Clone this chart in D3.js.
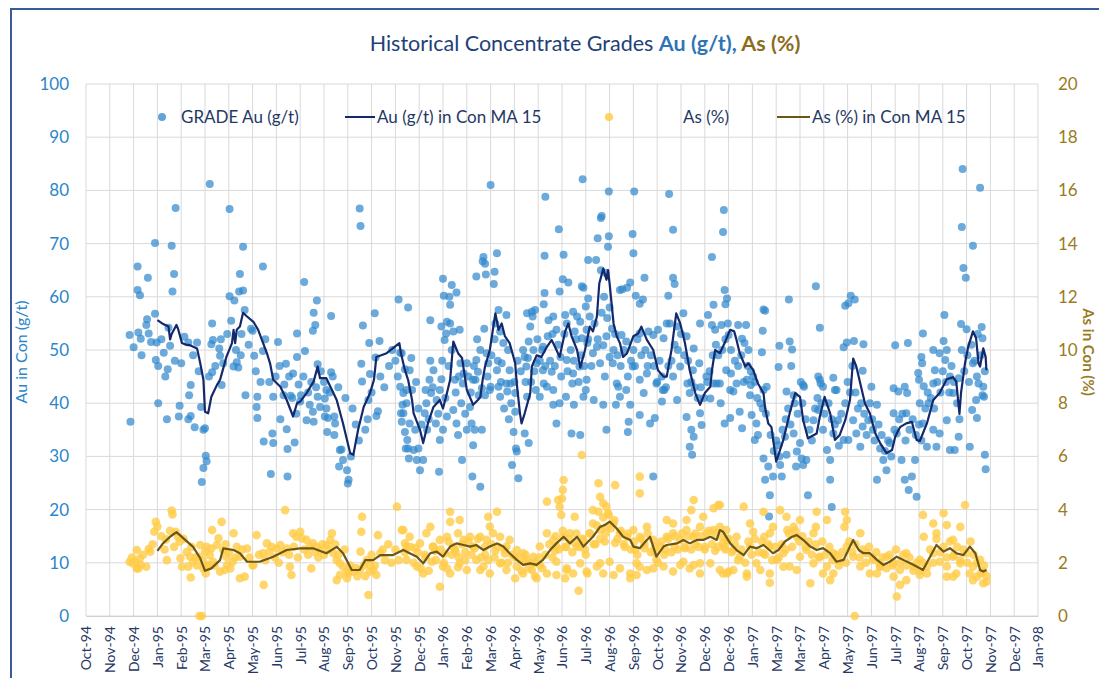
<!DOCTYPE html>
<html>
<head>
<meta charset="utf-8">
<script src="https://cdn.jsdelivr.net/npm/d3@7"></script>
<style>
  body { margin: 0; background: #fff; }
  text { font-family: Lato, "Open Sans", sans-serif; }
</style>
</head>
<body>
<div id="chart"></div>
<script>
// x values are days counted from 13-Oct-94 (first major unit of the date axis)
var tickLabels = ["Oct-94","Nov-94","Dec-94","Jan-95","Feb-95","Mar-95","Apr-95","May-95","Jun-95","Jul-95",
  "Aug-95","Sep-95","Oct-95","Nov-95","Dec-95","Jan-96","Feb-96","Mar-96","Apr-96","May-96","Jun-96","Jul-96",
  "Aug-96","Sep-96","Oct-96","Nov-96","Dec-96","Dec-96","Jan-97","Mar-97","Mar-97","Apr-97","May-97","Jun-97",
  "Jul-97","Aug-97","Sep-97","Oct-97","Nov-97","Dec-97","Jan-98"];

// GRADE Au (g/t)  [day, value]
var auPoints = [
[156,81.2],[113,76.7],[181,76.5],[87,70.1],[108,69.6],[198,69.4],[65,65.7],[223,65.7],[78,63.6],[111,64.3],[194,64.3],[65,61.3],[68,60.3],[109,61.0],[181,60.1],[187,59.3],[193,61.0],[198,61.2],[275,62.8],[291,59.3],[345,76.6],[346,73.3],[394,59.5],[406,58],[87,56.8],[77,55.8],[76,54.7],[55,52.8],[66,53.3],[69,52.1],[79,53.1],[89,51.4],[104,54.2],[88,48.1],[91,47.0],[103,46.4],[100,45],[129,51.4],[140,51.4],[159,55],[160,51.9],[158,51.1],[168,50.3],[169,48.9],[173,47.5],[159,45.8],[200,57.5],[210,53.6],[189,50],[195,49],[190,47.7],[186,46.9],[192,46.7],[212,48.9],[223,49.8],[242,51.5],[252,47.4],[266,53.1],[266,48.7],[276,49.8],[261,45.6],[287,57],[289,54.7],[286,53.6],[309,56.4],[292,47.3],[309,45.8],[349,54.6],[357,51.3],[370,51.7],[347,47.4],[364,56.9],[365,48.6],[358,45.5],[396,49.5],[402,46.4],
[56,36.5],[91,40],[102,37],[118,39.5],[117,37.5],[129,37],[132,37.6],[137,35.5],[145,39.3],[148,35],[150,35.3],[151,30.1],[152,29.1],[148,27.8],[146,25.2],[132,43.4],[130,41.5],[171,43.4],[201,41.5],[216,41.2],[215,39.3],[216,37.2],[224,32.8],[235,34.3],[236,32.5],[233,26.7],[245,37],[253,35.1],[263,32.6],[254,31.4],[254,26.2],[236,41.2],[249,41.5],[258,41.4],[270,40.3],[271,41.5],[282,39.7],[286,38.4],[278,36.8],[287,36.5],[295,39.3],[303,39],[301,37.5],[305,37.2],[313,37.5],[314,36.2],[304,34.6],[313,34],[292,41.2],[301,40.9],[303,42.5],[320,31.2],[324,29.3],[319,28.1],[329,27.4],[331,25.6],[330,24.9],[334,30],[322,31.3],[348,44.1],[368,38.5],[366,37.6],[356,40.6],[396,43.1],[399,39.7],[400,38.1],[398,36.5],[402,34.6],[406,31.5],[407,29.6],
[510,81],[626,82.1],[579,78.8],[659,79.8],[691,79.8],[735,79.3],[804,76.3],[803,72.2],[649,74.8],[650,75.2],[596,72.7],[689,71.8],[740,72.6],[645,71],[659,71.4],[658,69.4],[690,68.2],[518,68.2],[501,67.5],[500,66.7],[503,66.2],[578,67.7],[602,67.9],[633,66.9],[643,66.9],[789,67.5],[492,63.8],[504,64.2],[515,64.7],[514,62.4],[450,63.4],[461,62.2],[451,60.2],[458,60],[459,58.5],[467,60.8],[601,63.3],[608,62.7],[625,62],[627,61.7],[649,65],[655,64.5],[704,63.6],[686,62.7],[682,61.7],[673,61.3],[676,61.4],[740,63.6],[742,62.4],[734,60.2],[578,60.7],[597,61],[577,58.6],[633,59.7],[630,58.2],[693,60.2],[698,58.7],[702,59.5],[805,61.3],[808,59.7],[791,58.5],[806,58.6],
[434,55.6],[448,54.4],[455,55.3],[459,55],[454,53.1],[463,53.5],[471,53.8],[452,51.9],[434,48],[449,48],[438,46.2],[433,44.4],[428,42.5],[408,46.2],[398,49.4],[411,42.5],[492,48.1],[494,45.9],[505,49.4],[507,47.5],[516,55],[520,57.5],[530,56.6],[522,53.5],[526,51.3],[532,50],[524,47.5],[518,46.2],[534,46.2],[530,43.7],[520,43.1],[509,42.5],[499,42.8],[488,44.4],[480,47.5],[476,45.6],[475,43.7],[465,44.4],[503,41.5],[556,56.9],[562,57.2],[566,57.5],[560,54.4],[563,56.3],[558,51.6],[564,50],[576,50.6],[583,55.6],[589,56.3],[593,53.8],[582,52.6],[604,56.6],[606,55],[614,57.2],[619,56.3],[623,55.3],[616,53.5],[625,52.2],[635,56.3],[631,53.8],[632,51.3],[644,50.6],[639,49.4],[656,52.6],[652,50.9],[665,50],[675,52.8],[681,51.6],[690,50],[698,53.1],[709,53.5],[715,52.8],[721,53.8],[728,52.2],[732,55],[736,55],[745,54.4],[753,56.9],[757,52.6],[766,50.3],[774,55],[784,56.6],[789,54.7],[793,53.8],[801,54.7],[810,52.8],
[553,48.7],[555,46.9],[568,47.5],[576,46.2],[587,45.9],[598,48.7],[606,48.1],[614,45.6],[622,46.9],[631,44.4],[630,42.5],[613,43.7],[605,41.2],[589,42.5],[577,43.7],[567,42.5],[648,47.5],[660,48.7],[664,47.5],[654,45],[669,43.7],[681,42.5],[673,41.2],[689,46.9],[698,44.4],[707,45.6],[719,43.7],[727,42.5],[740,45],[749,46.9],[758,43.7],[761,41.9],[765,46.2],[773,47.5],[782,45],[791,43.7],[799,43.7],[807,46.2],[812,42.5],[404,42.5],[446,42.5],[472,47.5],[491,44.4],[535,43.7],[541,41.9],
[400,41.9],[404,40],[397,38.1],[408,36.2],[405,33.1],[403,31.5],[413,31.2],[417,29.3],[421,27.4],[419,31.5],[425,29.3],[415,35],[430,35],[427,38.1],[435,41.9],[442,40.6],[441,36.2],[446,33.1],[450,35],[445,27.1],[455,37.5],[463,38.7],[467,36.2],[469,34],[474,29.3],[480,35],[484,39.3],[486,36.2],[488,32.1],[490,35],[487,26.2],[497,24.3],[499,35],[495,41.5],[510,43.1],[522,41.2],[531,42.2],[541,38.4],[539,34.6],[542,31.5],[543,30.9],[537,28.4],[545,25.9],[553,34.3],[558,32.5],[556,41.2],[572,41.2],[581,43.1],[589,39.7],[593,36.2],[597,40],[612,34.3],[623,34],[615,39.7],[627,41.2],[640,40.6],[652,39.7],[656,35],[668,39.7],[671,43.1],[686,39.7],[684,36.5],[683,34.6],[698,37.8],[711,36.2],[717,37.2],[703,41.9],[715,26.2],[726,40.3],[729,42.5],[745,40.6],[757,37.4],[763,35],[766,33.7],[761,31.8],[764,30.3],[774,38.1],[776,35.9],[787,40.9],[800,40],[795,43.7],
[1105,84],[1127,80.5],[1104,73.1],[1118,69.6],[1106,65.4],[1109,63.6],[920,62],[886,59.5],[964,60.2],[969,59.5],[957,58.3],[961,58.8],[854,57.6],[856,57.4],[925,54.2],[1082,56.6],[1103,54.9],[1110,53.9],[1129,54.3],[1130,52.2],[1055,53.1],[822,54.7],[832,54.7],[853,53.6],[827,52.1],[830,51.3],[835,50],[852,49.6],[874,50.8],[887,51.6],[890,50.1],[873,46.8],[889,47],[955,50.5],[959,51.4],[968,51.7],[980,51.1],[1020,50.9],[1036,51.3],[1068,50],[1076,49.4],[1085,50],[1081,51.7],[1083,48.1],[1053,48.7],[1054,47.5],[979,46.1],[923,45],[925,44.4],[942,44.8],[929,43.1],[944,42.5],[904,43.4],[883,42.2],[892,41.5],[813,45.6],[820,43.7],[833,44.4],[841,45],[837,41.5],[854,42.5],[1018,42.8],[1032,43.1],[1035,41.9],[1049,45.7],[1050,44.4],[1056,43.2],[1068,43.7],[1070,46.2],[1089,45],[1100,44.7],[1118,47.5],[1123,45],[1131,43.1],[1132,41.2],[1125,43.7],
[816,42.2],[824,38.4],[812,37.2],[805,36.2],[827,35.3],[839,37.8],[845,36.2],[847,34],[843,33.1],[854,29.6],[860,28.1],[866,26.2],[856,25.6],[862,22.7],[861,18.7],[875,28.4],[877,26.2],[873,32.1],[881,33.7],[883,30.3],[892,34.3],[900,32.5],[896,30.9],[902,29.6],[908,29.3],[904,28.4],[895,28.1],[910,22.7],[917,36.8],[923,38.7],[929,35],[934,31.2],[938,29.3],[938,25.6],[940,20.5],[942,34.3],[948,36.8],[955,33.1],[961,33.1],[967,36.8],[971,34.3],[976,31.8],[979,35.6],[986,36.8],[992,35],[997,39.7],[1001,31.5],[997,25.6],[1005,29.3],[1009,27.4],[1013,32.5],[1018,38.1],[1022,34.3],[1028,29.3],[1032,25.6],[1037,23.7],[1041,26.2],[1045,29.3],[1047,22.4],[1051,40],[1055,36.2],[1060,31.8],[1068,35],[1072,31.8],[1076,34.3],[1085,36.8],[1089,31.2],[1095,31.2],[1100,33.7],[1114,31.8],[1123,37.2],[1130,41.5],[1133,30.3],[1134,27.6],[1122,40.6],[838,43.4],[858,43.1],[905,43.1],[926,43.7],[946,42.5],[990,43.1],[1024,42.2],[1034,38.1],[1062,40],[1093,41.9],[1117,38.7],
[60,50.5],[70,49],[82,51.5],[95,52],[98,49.5],[106,50.8],[112,48],[120,47.5],[124,52.5],[135,49],[142,46],[155,45],[163,47],[170,52],[178,53],[183,55.5],[196,53],[205,51],[208,54],[214,46],[220,44],[226,52],[231,44],[239,45],[244,47],[250,43.5],[256,45],[260,41],[265,38],[268,43.5],[274,45],[280,42],[284,44],[290,43],[296,46],[300,44],[307,42],[311,45],[318,43],[327,41],[336,39],[340,36],[344,33],[352,35],[355,37],[360,42],[371,45],[376,43],[382,47],[386,50],[390,48],[393,45],
[410,48.5],[416,44],[419,39],[423,36],[429,40],[432,37],[437,43],[444,38],[448,44.5],[453,41],[457,47],[461,50],[466,42],[470,45],[473,40],[478,38],[482,45],[485,42],[489,47],[493,52],[497,50],[502,54],[506,45],[511,49],[515,52],[519,48],[523,44],[527,39],[533,37],[536,40],[540,44],[544,48],[548,46],[551,50],[554,44],[557,48.5],[561,44],[565,46],[569,52],[572,48],[575,50],[579,47],[585,48],[588,53],[591,47],[595,51],[599,45],[603,53],[607,46],[611,50],[615,48],[618,52],[621,44],[624,49],[628,47],[633,52],[637,47],[641,55],[645,52],[650,57],[653,60],[657,56],[660,58],[663,54],[667,53],[670,49],[674,47],[678,50],[683,45],[687,48],[692,47],[695,52],[700,49],[705,50],[708,47],[712,49],[716,47],[720,44],[723,48],[726,45],[731,43],[734,47],[738,48],[742,51],[746,50],[750,53],[754,49],[759,48],[763,44],[767,43],[771,41],[775,43],[779,41],[783,44],[786,46],[790,49],[794,51],[797,49],[802,50],[806,52],[809,55],[813,50],[818,48],
[822,47],[826,49],[829,44],[834,47],[838,46],[843,44],[846,41],[850,40],[853,39],[857,38],[863,34],[867,31],[870,33],[874,30],[878,35],[882,37],[885,39],[888,36],[893,40],[897,38],[901,44],[903,40],[907,37],[912,35],[915,33],[919,39],[922,41],[927,40],[931,38],[936,40],[940,37],[944,36],[949,32],[952,38],[957,40],[960,44],[963,42],[966,47],[970,42],[973,39],[977,40],[981,38],[984,34],[988,40],[991,37],[994,33],[999,36],[1003,34],[1007,31],[1011,33],[1015,30],[1019,35],[1025,37],[1029,38],[1033,33],[1038,35],[1042,37],[1046,34],[1050,36],[1053,33],[1058,39],[1061,42],[1065,41],[1069,39],[1073,44],[1077,42],[1080,46],[1084,44],[1088,42],[1091,47],[1094,44],[1098,40],[1101,37],[1104,50],[1107,46],[1111,49],[1113,44],[1116,51],[1120,48],[1124,53],[1128,49],[1133,46]
];

// As (%)  [day, value]
var asPoints = [
[88,3.54],[90,3.36],[86,3.17],[108,3.96],[109,3.82],[113,3.17],[116,2.98],[118,2.79],[101,2.88],[102,2.1],[64,2.48],[55,2.04],[62,2.04],[68,2.17],[76,1.85],[66,1.79],[79,2.52],[81,2.42],[119,2.17],[131,2.23],[135,2.04],[121,1.85],[129,1.85],[142,2.23],[144,2.67],[152,2.6],[150,2.42],[158,2.54],[156,2.29],[165,2.67],[167,2.92],[171,3.54],[159,3.23],[153,1.85],[160,2.04],[173,2.48],[177,2.23],[186,3.11],[178,1.92],[175,1.73],[169,1.67],[185,2.04],[194,2.23],[190,2.6],[203,2.54],[215,3.04],[223,2.36],[228,2.73],[234,2.6],[240,2.54],[245,2.67],[253,2.54],[251,3.98],[261,3.11],[265,2.98],[270,3.17],[272,2.92],[278,2.86],[282,2.6],[286,2.73],[291,2.6],[295,2.48],[303,2.67],[308,2.86],[310,3.11],[312,2.36],[316,2.1],[320,1.98],[324,1.85],[329,1.67],[337,1.67],[345,1.73],[348,3.73],[347,3.17],[346,2.42],[354,2.1],[358,1.92],[362,1.73],[368,3.04],[371,2.36],[392,4.11],[398,3.23],[402,2.73],[404,2.6],
[59,1.98],[64,1.79],[69,1.92],[132,1.45],[143,0],[146,0],[148,1.79],[154,1.92],[182,1.79],[194,1.42],[200,1.48],[211,1.92],[224,1.17],[257,1.85],[259,1.54],[284,1.79],[316,1.35],[320,1.54],[329,1.42],[331,1.6],[356,0.79],[358,1.67],[366,1.54],
[625,6.05],[602,5.11],[601,4.74],[600,4.42],[646,4.99],[667,4.92],[698,5.24],[698,4.61],[648,4.48],[652,4.24],[656,4.11],[646,3.92],[639,3.98],[658,3.86],[581,4.3],[595,4.36],[597,4.11],[599,3.8],[616,3.73],[459,3.92],[459,3.54],[471,3.61],[507,3.73],[518,3.92],[509,3.36],[766,4.36],[763,3.98],[791,4.05],[797,4.17],[778,3.73],[757,3.61],[740,3.48],[732,3.61],
[400,3.23],[408,2.98],[421,2.73],[429,3.11],[434,3.35],[438,2.61],[446,2.86],[455,2.98],[463,2.61],[469,3.11],[476,2.86],[484,2.98],[488,2.61],[497,2.98],[505,2.86],[513,3.11],[522,2.98],[530,2.61],[534,2.86],[543,2.48],[551,2.36],[555,2.11],[564,2.23],[572,2.61],[581,3.11],[589,2.86],[593,2.61],[602,2.98],[610,3.11],[619,2.61],[627,2.86],[635,3.11],[639,3.48],[648,3.23],[656,3.35],[665,3.48],[673,3.11],[682,2.98],[690,3.23],[698,2.98],[707,3.35],[715,2.86],[724,2.61],[732,2.98],[740,3.11],[749,2.86],[757,3.23],[766,2.98],[774,3.35],[782,3.11],[791,3.23],[799,3.35],[808,2.86],
[404,2.11],[417,1.86],[425,1.6],[436,2.04],[450,1.86],[459,1.6],[471,1.98],[480,1.73],[492,2.11],[501,1.86],[509,1.6],[522,1.98],[530,1.73],[543,1.86],[551,1.6],[562,1.73],[572,1.92],[581,1.6],[593,2.04],[606,1.79],[614,1.6],[623,1.98],[631,1.67],[644,1.86],[652,1.6],[660,2.04],[673,1.79],[686,1.6],[694,1.98],[707,1.73],[719,2.11],[728,1.86],[740,1.67],[753,2.04],[761,1.79],[774,1.6],[787,1.98],[799,1.73],[810,1.67],
[446,1.1],[621,0.95],[862,1.25],[455,1.79],[469,1.83],[497,1.73],[541,1.42],[568,1.42],[593,1.54],[604,1.42],[606,1.73],[632,1.6],[648,1.98],[665,1.54],[686,1.42],[694,1.54],[698,1.85],[715,1.79],[749,1.92],[766,1.92],[774,1.98],[803,1.6],[816,1.73],[833,1.6],[850,1.73],[879,1.85],
[402,2.4],[415,2.55],[427,2.3],[440,2.45],[452,2.35],[465,2.5],[478,2.4],[490,2.55],[503,2.3],[516,2.45],[528,2.35],[541,2.2],[553,2.05],[566,2.0],[579,2.3],[591,2.45],[604,2.6],[616,2.75],[629,2.5],[642,2.7],[654,2.8],[667,2.75],[679,2.6],[692,2.5],[704,2.55],[717,2.4],[730,2.5],[742,2.6],[755,2.55],[768,2.7],[780,2.6],[793,2.45],[805,2.6],
[799,4.17],[829,4.11],[854,3.92],[875,3.98],[900,3.61],[883,3.73],[921,3.92],[934,3.61],[957,3.92],[959,3.61],[956,3.35],[920,3.35],[917,3.11],[976,3.11],[1055,3.8],[1068,3.48],[1081,3.86],[1085,3.42],[1108,4.17],[1102,3.35],[1093,2.86],[1072,3.11],[1056,2.98],[866,3.35],[862,3.11],[884,3.23],[892,3.35],[896,2.98],[837,3.48],[841,3.17],[855,2.98],[820,2.98],[807,3.23],
[803,2.73],[816,2.48],[824,2.23],[837,2.61],[845,1.98],[854,2.36],[862,2.61],[871,2.11],[879,2.36],[887,1.86],[900,2.23],[908,2.48],[917,1.98],[925,2.23],[934,1.86],[942,2.36],[950,2.11],[959,2.61],[967,2.23],[976,1.86],[984,2.36],[992,2.11],[1001,1.86],[1009,2.23],[1018,1.98],[1026,1.73],[1034,2.36],[1043,1.86],[1051,2.11],[1060,1.86],[1068,2.36],[1076,2.04],[1085,1.86],[1093,2.23],[1102,1.98],[1110,2.36],[1118,1.86],[1127,2.11],[1131,1.67],[1123,1.48],[1114,1.6],[808,1.6],[833,1.48],[862,1.6],[896,1.73],[929,1.6],[988,1.6],[1018,1.48],[1051,1.54],[1085,1.48],
[913,1.23],[969,0],[1022,0.73],[1026,1.17],[1034,1.35],[938,1.35],[942,1.6],[1131,1.23],[1135,1.29],[1118,1.35],[1093,1.48],[1097,1.6],[997,1.6],[1001,1.85],
[381,2.7],[385,2.0],[390,2.5],[394,2.1],[409,2.6],[413,2.0],[418,2.4],[422,1.8],[428,2.2],[432,1.7],[437,2.6],[441,2.1],[447,2.5],[451,2.0],[457,2.8],[461,2.3],[466,2.4],[470,2.2],[474,2.7],[478,2.1],[482,2.8],[486,2.3],[494,2.9],[498,2.2],[503,2.6],[507,2.1],[511,2.7],[515,2.2],[520,2.6],[524,2.0],[528,2.5],[532,2.0],[537,2.3],[545,2.2],[549,1.7],[554,2.3],[558,1.8],[562,2.0],[566,1.5],[571,2.2],[575,1.8],
[584,2.7],[588,2.2],[592,3.0],[596,2.5],[601,3.2],[605,2.6],[609,2.9],[613,2.4],[618,3.1],[622,2.6],[626,2.9],[630,2.3],[635,3.1],[640,2.7],[644,3.4],[648,2.9],[652,3.7],[655,3.1],[659,3.8],[662,3.3],[666,3.6],[670,2.9],[674,3.2],[678,2.7],[683,3.1],[687,2.5],[691,2.8],[695,2.3],[700,2.9],
[704,2.7],[708,3.1],[712,2.4],[717,2.6],[721,2.0],[725,2.8],[729,2.3],[734,2.9],[738,2.4],[742,3.0],[746,2.5],[751,3.1],[755,2.6],[759,3.0],[763,2.5],[768,3.1],[772,2.6],[776,3.0],[780,2.5],[785,3.2],[789,2.7],[793,3.1],[797,2.6],
[801,3.0],[806,2.5],[810,2.9],[814,2.4],[818,2.7],[822,2.1],[826,2.5],[831,2.0],[835,2.8],[839,2.3],[843,2.9],[848,2.4],[852,2.8],[856,2.3],[860,2.7],[865,2.1],[869,2.6],[873,2.2],[877,2.7],[882,2.5],[886,3.1],[890,2.6],[894,3.2],[899,2.8],[903,3.0],[907,2.6],[911,2.8],[915,2.3],[920,2.7],[924,2.2],[928,2.8],[932,2.3],[937,2.6],[941,2.1],[945,2.3],[949,1.9],[953,2.4],[958,2.0],
[962,2.8],[966,2.4],[970,2.7],[975,2.2],[979,2.5],[983,2.0],[987,2.6],[992,2.2],[996,2.4],[1000,2.0],[1004,2.2],[1009,1.8],[1013,2.3],[1017,1.9],[1021,2.5],[1026,2.0],[1030,2.3],[1034,1.9],[1038,2.2],[1043,1.7],[1047,2.0],[1051,1.7],[1055,2.0],[1060,1.6],
[1064,2.5],[1068,2.0],[1072,2.9],[1077,2.4],[1081,2.6],[1085,2.2],[1089,2.8],[1094,2.3],[1098,2.6],[1102,2.1],[1106,2.5],[1111,2.0],[1115,2.8],[1119,2.3],[1123,2.0],[1128,1.6],[1132,1.9],[1135,1.5],
[58,2.2],[72,2.3],[84,2.7],[95,3.0],[99,2.5],[106,3.2],[111,2.6],[123,2.9],[127,2.4],[133,2.6],[138,2.2],[140,1.9],[147,2.1],[151,1.6],[162,1.9],[176,2.7],[180,2.4],[188,2.2],[197,2.5],[206,2.2],[210,1.9],[218,2.3],[226,2.1],[231,2.4],[238,2.2],[243,2.0],[248,2.4],[256,2.3],[262,2.6],[267,2.2],[275,2.5],[280,2.3],[289,2.4],[293,2.2],[298,2.7],[300,2.3],[306,2.5],[314,2.7],[318,2.3],[326,2.5],[333,1.9],[340,1.8],[342,1.5],[350,1.9],[352,1.5],[360,2.3],[364,1.9],[374,2.5],[377,2.1]
];

// Au (g/t) in Con MA 15, as drawn
var auMA = [
[90,55.6],[96,55],[104,54.4],[106,52],[108,53],[114,54.7],[116,54],[121,51.3],[126,51],[131,50.9],[140,50.3],[144,47.5],[148,44.4],[150,38.4],[154,38.1],[158,41.2],[165,43.4],[169,44.4],[177,48.7],[184,51.3],[186,53.8],[188,51.3],[190,53.8],[194,54.4],[198,57],[203,56.3],[211,55.3],[217,53.8],[221,52.2],[228,49.4],[232,47.5],[236,44.4],[245,43.1],[253,40.6],[261,37.5],[266,40],[270,40.3],[278,41.9],[287,44.1],[292,46.9],[295,44.7],[303,44.7],[316,40.6],[324,36.2],[333,30.6],[337,30.3],[343,35],[350,39.3],[358,41.9],[363,44.4],[366,48.7],[379,49.4],[395,51.3],[397,49.4],[402,46.2],[406,44.4],[411,40.6],[413,38.1],[421,35],[425,32.5],[431,36.2],[438,39.3],[446,40.6],[450,39],[455,41.9],[459,44.4],[463,51.6],[469,49.4],[474,48.5],[480,42.5],[488,39.7],[494,40.6],[497,41.2],[500,44.4],[503,46.9],[509,50],[516,56.9],[520,53.8],[524,55],[528,52.6],[534,51.3],[541,47.5],[543,43.7],[547,38.1],[549,36.2],[553,38.1],[560,41.9],[562,46.9],[568,49],[574,48.7],[581,50.6],[587,51.9],[593,50],[597,48.7],[604,53.5],[608,55],[612,52.6],[619,50],[623,46.7],[629,50],[635,54.4],[639,53.5],[644,56.3],[647,62.5],[652,65.3],[656,63.2],[658,65],[660,62.5],[665,55],[669,52.6],[673,51.3],[677,48.7],[682,49.4],[690,52.6],[696,53.1],[700,54.4],[707,51.9],[715,50],[721,46.2],[728,45],[732,45],[738,50],[744,56.9],[749,55],[755,51.3],[761,46.2],[768,41.9],[774,39.7],[780,41.9],[787,43.1],[789,46.2],[793,50],[799,49.4],[805,51.3],[812,53.8],[817,53.5],[820,51.9],[824,49.4],[831,46.9],[835,47.5],[841,46.2],[847,43.7],[854,41.9],[856,39.1],[860,36.2],[864,35.5],[870,29],[879,33.1],[887,38.1],[894,41.9],[900,41.2],[904,36.8],[910,33.4],[921,34.3],[925,37.5],[931,41.2],[938,38.1],[944,33.1],[950,34],[957,36.8],[963,40.6],[967,48.4],[971,46.9],[976,43.7],[982,39.9],[988,38.1],[995,34.3],[1001,32.5],[1009,30.6],[1016,31.2],[1020,33.7],[1026,35.5],[1034,36.2],[1041,36.5],[1047,33.1],[1051,32.9],[1060,36.2],[1068,40.6],[1076,41.9],[1085,44.5],[1093,44.9],[1097,44],[1101,38],[1103,42],[1108,47.5],[1112,50.6],[1118,53.5],[1122,52.2],[1125,47.5],[1127,46.9],[1131,50.3],[1134,48.7],[1135,46.2]
];

// As (%) in Con MA 15, as drawn
var asMA = [
[90,2.45],[97,2.73],[106,2.98],[114,3.15],[118,3.05],[125,2.86],[135,2.6],[144,2.17],[150,1.7],[158,1.79],[169,2.1],[173,2.54],[186,2.48],[194,2.36],[203,2.04],[219,2.04],[236,2.23],[253,2.48],[270,2.54],[287,2.54],[303,2.36],[316,2.6],[324,2.36],[335,1.73],[345,1.73],[352,2.1],[362,2.1],[371,2.29],[387,2.29],[400,2.48],[408,2.36],[417,2.23],[425,1.98],[434,2.36],[442,2.42],[450,2.23],[459,2.61],[467,2.73],[476,2.67],[484,2.61],[492,2.67],[501,2.48],[509,2.61],[518,2.73],[526,2.61],[534,2.36],[543,2.11],[551,1.92],[560,1.98],[568,1.92],[576,2.11],[585,2.48],[593,2.73],[602,2.98],[606,2.86],[610,2.73],[619,2.98],[627,2.61],[635,2.86],[639,2.98],[648,3.35],[654,3.42],[660,3.55],[669,3.29],[677,2.98],[686,2.86],[690,2.61],[698,2.55],[707,2.86],[711,2.98],[715,2.61],[719,2.23],[728,2.61],[732,2.67],[745,2.73],[753,2.86],[761,2.73],[770,2.86],[778,2.86],[787,2.98],[795,2.86],[799,3.23],[803,3.17],[812,2.73],[820,2.48],[829,2.29],[837,2.61],[845,2.55],[854,2.67],[866,2.36],[873,2.48],[881,2.8],[890,2.98],[896,3.04],[904,2.86],[913,2.61],[921,2.48],[929,2.55],[938,2.36],[946,2.04],[955,2.11],[963,2.61],[967,2.86],[974,2.48],[980,2.36],[988,2.36],[997,2.11],[1005,1.92],[1013,2.04],[1022,2.23],[1030,2.11],[1039,1.98],[1047,1.86],[1055,1.73],[1064,2.23],[1072,2.67],[1081,2.42],[1089,2.55],[1097,2.36],[1106,2.29],[1114,2.61],[1121,2.36],[1127,1.73],[1131,1.67],[1135,1.73]
];

var svgWidth = 1099;
var svgHeight = 678;
var margin = { top: 84, right: 61, bottom: 62, left: 86 };
var width = svgWidth - margin.left - margin.right;
var height = svgHeight - margin.top - margin.bottom;

var navy = "#1f3864", blue = "#2b85c8", olive = "#9a7b22";

var svg = d3.select("#chart")
  .append("svg")
  .attr("width", svgWidth)
  .attr("height", svgHeight)
  .style("background", "#fff");

// outer chart frame
svg.append("rect")
  .attr("x", 11).attr("y", 9)
  .attr("width", 1200).attr("height", 800)
  .attr("fill", "none")
  .attr("stroke", "#3a5b9b")
  .attr("stroke-width", 2);

var chartGroup = svg.append("g")
  .attr("transform", `translate(${margin.left}, ${margin.top})`);

var xScale = d3.scaleLinear().domain([0, 1200]).range([0, width]);
var yLeft = d3.scaleLinear().domain([0, 100]).range([height, 0]);
var yRight = d3.scaleLinear().domain([0, 20]).range([height, 0]);

var xTicks = d3.range(0, 1201, 30);

// gridlines
chartGroup.append("g").selectAll("line").data(xTicks).enter().append("line")
  .attr("x1", d => xScale(d)).attr("x2", d => xScale(d))
  .attr("y1", 0).attr("y2", height)
  .attr("stroke", "#d9d9d9").attr("stroke-width", 1);
chartGroup.append("g").selectAll("line").data(yLeft.ticks(10)).enter().append("line")
  .attr("x1", 0).attr("x2", width)
  .attr("y1", d => yLeft(d)).attr("y2", d => yLeft(d))
  .attr("stroke", "#d9d9d9").attr("stroke-width", 1);

// axes
var bottomAxis = d3.axisBottom(xScale).tickValues(xTicks)
  .tickFormat((d, i) => tickLabels[i]).tickSize(0);
var xAxisG = chartGroup.append("g")
  .attr("transform", `translate(0, ${height})`)
  .call(bottomAxis);
xAxisG.select(".domain").attr("stroke", "#d0d0d0");
xAxisG.selectAll("text")
  .attr("transform", "rotate(-90)")
  .attr("x", -10).attr("y", 0).attr("dy", "0.35em")
  .attr("text-anchor", "end")
  .attr("fill", navy)
  .style("font-size", "14px");

var leftAxis = d3.axisLeft(yLeft).ticks(10).tickSize(0).tickPadding(17);
var lAxisG = chartGroup.append("g").call(leftAxis);
lAxisG.select(".domain").remove();
lAxisG.selectAll("text").attr("fill", blue).style("font-size", "17px");

var rightAxis = d3.axisRight(yRight).ticks(10).tickSize(0).tickPadding(20);
var rAxisG = chartGroup.append("g").attr("transform", `translate(${width}, 0)`).call(rightAxis);
rAxisG.select(".domain").remove();
rAxisG.selectAll("text").attr("fill", olive).style("font-size", "17px");

// Au scatter
chartGroup.append("g").selectAll("circle").data(auPoints).enter().append("circle")
  .attr("cx", d => xScale(d[0]))
  .attr("cy", d => yLeft(d[1]))
  .attr("r", 4)
  .attr("fill", "#2e86cc")
  .attr("opacity", 0.7);

var auLine = d3.line().x(d => xScale(d[0])).y(d => yLeft(d[1]));
chartGroup.append("path").datum(auMA)
  .attr("d", auLine)
  .attr("fill", "none")
  .attr("stroke", "#14296b")
  .attr("stroke-width", 2.2)
  .attr("stroke-linejoin", "round");

// As scatter
chartGroup.append("g").selectAll("circle").data(asPoints).enter().append("circle")
  .attr("cx", d => xScale(d[0]))
  .attr("cy", d => yRight(d[1]))
  .attr("r", 4.3)
  .attr("fill", "#ffcc47")
  .attr("opacity", 0.8);

var asLine = d3.line().x(d => xScale(d[0])).y(d => yRight(d[1]));
chartGroup.append("path").datum(asMA)
  .attr("d", asLine)
  .attr("fill", "none")
  .attr("stroke", "#6b5713")
  .attr("stroke-width", 2.2)
  .attr("stroke-linejoin", "round");

// title
var title = svg.append("text")
  .attr("x", 585).attr("y", 51)
  .attr("text-anchor", "middle")
  .style("font-size", "21.5px");
title.append("tspan").attr("fill", "#243f78").text("Historical Concentrate Grades ");
title.append("tspan").attr("fill", "#2e75b6").attr("font-weight", "bold").text("Au (g/t),");
title.append("tspan").attr("fill", "#8c6c1c").attr("font-weight", "bold").text(" As (%)");

// axis titles
svg.append("text")
  .attr("transform", "translate(27, 352) rotate(-90)")
  .attr("text-anchor", "middle")
  .attr("fill", blue)
  .style("font-size", "16px")
  .text("Au in Con (g/t)");
svg.append("text")
  .attr("transform", "translate(1083, 352) rotate(90)")
  .attr("text-anchor", "middle")
  .attr("fill", olive)
  .attr("font-weight", "bold")
  .style("font-size", "15px")
  .text("As in Con (%)");

// legend
var legend = svg.append("g").style("font-size", "17px");
legend.append("circle").attr("cx", 162).attr("cy", 117).attr("r", 4).attr("fill", "#2e86cc").attr("opacity", 0.75);
legend.append("text").attr("x", 181).attr("y", 123).attr("fill", navy).text("GRADE Au (g/t)");
legend.append("line").attr("x1", 345).attr("x2", 375).attr("y1", 117).attr("y2", 117).attr("stroke", "#14296b").attr("stroke-width", 2);
legend.append("text").attr("x", 377).attr("y", 123).attr("fill", navy).text("Au (g/t) in Con MA 15");
legend.append("circle").attr("cx", 609).attr("cy", 117).attr("r", 4).attr("fill", "#ffcc47").attr("opacity", 0.85);
legend.append("text").attr("x", 683).attr("y", 123).attr("fill", navy).text("As (%)");
legend.append("line").attr("x1", 777).attr("x2", 810).attr("y1", 117).attr("y2", 117).attr("stroke", "#6b5713").attr("stroke-width", 2);
legend.append("text").attr("x", 812).attr("y", 123).attr("fill", navy).text("As (%) in Con MA 15");
</script>
</body>
</html>
